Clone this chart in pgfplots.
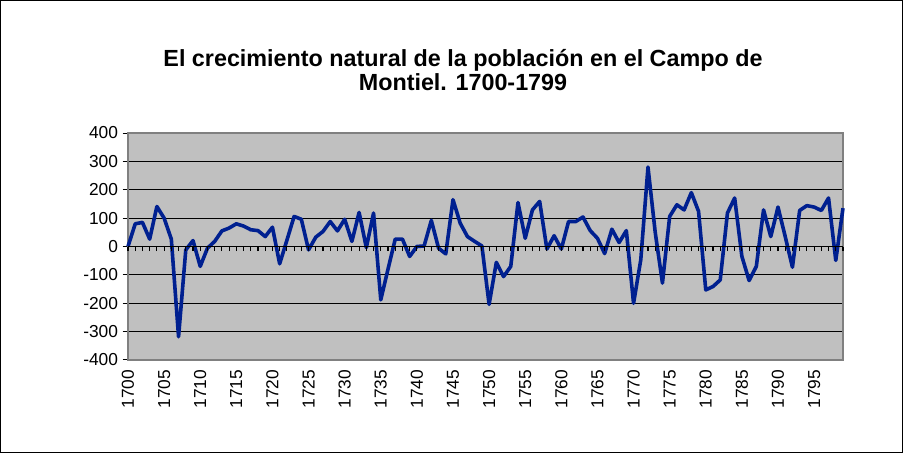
\documentclass[border=0pt]{standalone}
\usepackage{fontspec}
\setmainfont{Liberation Sans}
\usepackage{pgfplots}
\pgfplotsset{compat=1.18}
\definecolor{plotbg}{RGB}{192,192,192}
\definecolor{navyline}{RGB}{0,32,144}
\definecolor{bordergray}{RGB}{128,128,128}
\pgfplotstableread{
year val
1700 0
1701 80
1702 85
1703 26
1704 141
1705 100
1706 26
1707 -318
1708 -12
1709 21
1710 -70
1711 -6
1712 18
1713 55
1714 65
1715 80
1716 72
1717 59
1718 56
1719 35
1720 68
1721 -61
1722 22
1723 106
1724 96
1725 -12
1726 33
1727 53
1728 88
1729 55
1730 96
1731 18
1732 120
1733 -4
1734 118
1735 -188
1736 -80
1737 26
1738 26
1739 -35
1740 0
1741 2
1742 92
1743 -6
1744 -26
1745 165
1746 82
1747 35
1748 18
1749 2
1750 -204
1751 -56
1752 -106
1753 -70
1754 155
1755 29
1756 129
1757 159
1758 -9
1759 38
1760 -9
1761 88
1762 88
1763 104
1764 56
1765 29
1766 -25
1767 61
1768 14
1769 56
1770 -200
1771 -47
1772 280
1773 50
1774 -129
1775 106
1776 147
1777 129
1778 190
1779 124
1780 -153
1781 -141
1782 -118
1783 118
1784 171
1785 -35
1786 -120
1787 -70
1788 129
1789 35
1790 139
1791 35
1792 -73
1793 127
1794 144
1795 139
1796 127
1797 171
1798 -49
1799 135
}\datatable
\begin{document}
\begin{tikzpicture}
\draw[black, line width=0.75pt] (0.375pt,0.375pt) rectangle (676.875pt,339.375pt);
\node[font=\bfseries\fontsize{17.5}{18.5}\selectfont, align=center] at (347.25pt,287.25pt) {El crecimiento natural de la población en el Campo de\\Montiel. 1700-1799};
\begin{axis}[at={(96pt,69.75pt)}, anchor=south west, scale only axis,
  width=536.25pt, height=170.25pt,
  xmin=1700, xmax=1799, ymin=-400, ymax=400,
  axis background/.style={fill=plotbg},
  axis line style={bordergray, line width=1.5pt},
  ytick={-400,-300,...,400},
  ymajorgrids, grid style={black, line width=0.8pt},
  xtick={1700,1705,...,1795},
  xticklabel style={rotate=90, anchor=east},
  /pgf/number format/1000 sep={},
  /pgf/number format/assume math mode=true,
  tick label style={font=\fontsize{13}{15}\selectfont},
  xtick style={draw=none},
  ytick style={black, line width=0.75pt},
  ytick pos=left, xtick pos=bottom,
  tick align=outside, major tick length=4pt,
  clip=false,
]
\addplot[navyline, line width=2.7pt, line join=round] table[x=year,y=val] {\datatable};
\end{axis}
\begin{axis}[at={(96pt,69.75pt)}, anchor=south west, scale only axis,
  width=536.25pt, height=170.25pt,
  xmin=1700, xmax=1799, ymin=-400, ymax=400,
  axis x line=middle, axis y line=none,
  axis line style={-, black, line width=0.8pt},
  xtick={1700,1701,...,1799}, xticklabels={},
  xtick style={black, line width=0.9pt},
  tick align=outside, major tick length=3.5pt,
]
\end{axis}
\end{tikzpicture}
\end{document}
